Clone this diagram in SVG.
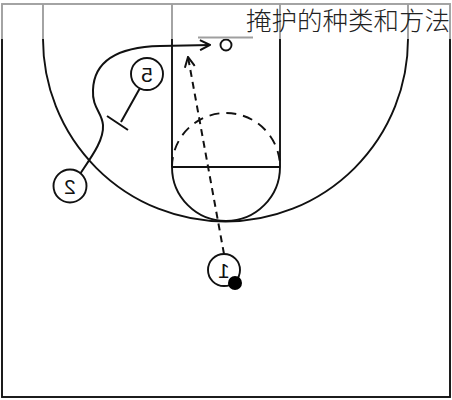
<svg xmlns="http://www.w3.org/2000/svg" width="452" height="400" viewBox="0 0 452 400">
<style>
.court{fill:none;stroke:#111;stroke-width:1.9}
.pl{fill:#fff;stroke:#111;stroke-width:1.9}
.num{font-family:"Liberation Sans",Arial,sans-serif;font-size:21px;fill:#111;text-anchor:middle}
.con{fill:none;stroke:#111;stroke-width:2}
.dash{stroke-dasharray:7 5}
.title{font-family:"Noto Sans CJK SC","Noto Sans",sans-serif;font-size:25.5px;font-weight:300;fill:#222}
</style>
<defs>
<marker id="arr" viewBox="0 0 12 12" refX="11" refY="6" markerWidth="12" markerHeight="12" markerUnits="userSpaceOnUse" orient="auto">
<path d="M1 1 L11 6 L1 11" fill="none" stroke="#111" stroke-width="2"/>
</marker>
</defs>
<rect width="452" height="400" fill="#fff"/>
<g id="court">
<rect class="court" x="2" y="4" width="448" height="393"/>
<path class="court" d="M43 4 V39 A182.5 182.5 0 0 0 408 39 V4"/>
<path class="court" d="M172 4 V167 M280 4 V167 M172 167 H280"/>
<path class="court" d="M172 167 A54 54 0 0 0 280 167"/>
<path class="court" d="M172 167 A54 54 0 0 1 280 167" stroke-dasharray="10 7"/>
</g>
<g id="basket">
<line class="court" x1="198" y1="37.5" x2="253" y2="37.5"/>
<circle class="court" cx="226" cy="45" r="5.5"/>
</g>
<g id="connectors">
<path class="con" d="M80 174 C92 156 104 140 103 125 C102 112 92 108 93 90 C94 60 120 47 160 46 L210 45" marker-end="url(#arr)"/>
<path class="con dash" d="M224 254 L188 57" marker-end="url(#arr)"/>
<path class="con" d="M140 88 L121 122 M107 116 L128 130"/>
</g>
<g id="player5">
<circle class="pl" cx="147" cy="74" r="16"/>
<text class="num" transform="translate(147 81.5) scale(-1 1)">5</text>
</g>
<g id="player2">
<circle class="pl" cx="70" cy="186" r="16.5"/>
<text class="num" transform="translate(70 193.5) scale(-1 1)">2</text>
</g>
<g id="player1">
<circle class="pl" cx="224" cy="270" r="16"/>
<text class="num" transform="translate(224 277.5) scale(-1 1)">1</text>
<circle cx="235" cy="283" r="7" fill="#000"/>
</g>
<rect x="0" y="0" width="452" height="39" fill="#fff" opacity="0.6"/>
<text class="title" x="246" y="30">掩护的种类和方法</text>
</svg>
